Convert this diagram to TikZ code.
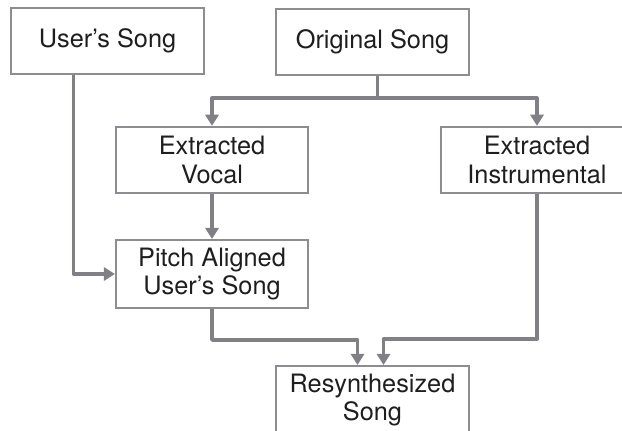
\documentclass[tikz,border=0pt]{standalone}
\usepackage{fontspec}
\setmainfont{TeX Gyre Heros}
\usetikzlibrary{
  arrows.meta,
  calc
}
\definecolor{boxgray}{RGB}{140,140,146}
\definecolor{linegray}{RGB}{128,128,134}
\definecolor{textgray}{RGB}{30,30,30}
\tikzset{
  songbox/.style={
    draw=boxgray, line width=1.4pt, fill=white, text=textgray,
    align=center, inner sep=0pt,
    minimum width=4.8cm, minimum height=1.66cm,
    font=\fontsize{18}{20}\selectfont
  },
  flow/.style={
    draw=linegray, line width=2.5pt, line join=round,
    -{Triangle[width=0.33cm,length=0.28cm]}
  },
  flowplain/.style={
    draw=linegray, line width=2.5pt, line join=round
  }
}

\begin{document}
\begin{tikzpicture}[x=0.025cm,y=-0.025cm]
\useasboundingbox (0,0) rectangle (622,430);
\clip (0,0) rectangle (622,430);
% boxes
\node[songbox, minimum height=1.63cm] (user)  at (107.5,41) {User's Song};
\node[songbox] (orig)  at (372.5,42) {Original Song};
\node[songbox] (vocal) at (212,160)  {Extracted\\Vocal};
\node[songbox] (instr) at (537,160)  {Extracted\\Instrumental};
\node[songbox, minimum height=1.7cm] (pitch) at (212,274)  {Pitch Aligned\\User's Song};
\node[songbox, minimum height=1.7cm] (resyn) at (372.5,400) {Resynthesized\\Song};
% split of the original song
\coordinate (split) at ($(orig.south)+(5,22)$);
\draw[flowplain] ($(orig.south)+(5,0)$) -- (split);
\draw[flow] (split) -| (vocal.north);
\draw[flow] (split) -| (instr.north);
% into the pitch alignment
\draw[flow] ($(user.south west)+(63,0)$) |- (pitch.west);
\draw[flow] (vocal) -- (pitch);
% into the resynthesis
\draw[flow] (pitch.south) -- ++(0,31) -| ($(resyn.north)+(-15,0)$);
\draw[flow] (instr.south) -- ++(0,145) -| ($(resyn.north)+(11,0)$);
\end{tikzpicture}
\end{document}
